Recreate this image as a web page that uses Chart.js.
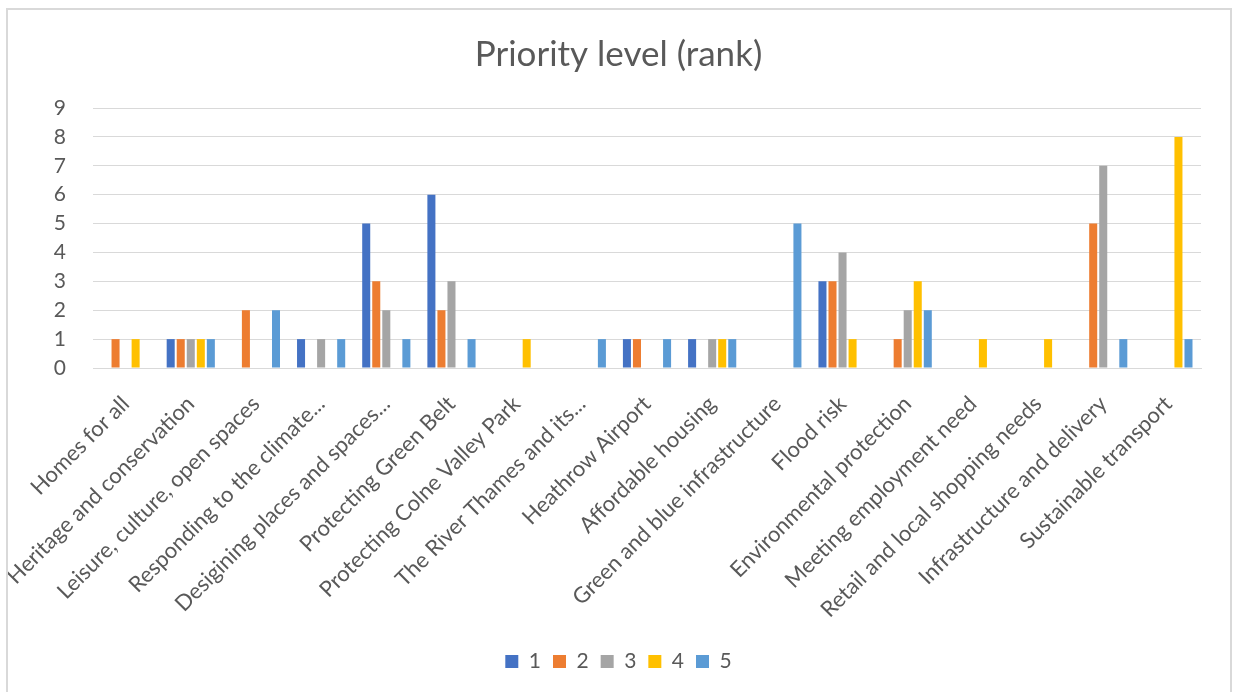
<!DOCTYPE html>
<html>
<head>
<meta charset="utf-8">
<script src="https://cdn.jsdelivr.net/npm/chart.js@4.4.1/dist/chart.umd.min.js"></script>
<style>
    html, body { margin: 0; padding: 0; background: #fff; }
    #wrap { position: relative; width: 1237px; height: 692px; }
    #frame {
        position: absolute; left: 6px; top: 8px; width: 1222px; height: 700px;
        border: 2px solid #d9d9d9; pointer-events: none;
    }
</style>
</head>
<body>
<div id="wrap">
    <canvas id="chart" width="1237" height="692"></canvas>
    <div id="frame"></div>
</div>
<script>
// Categories (x axis)
const categories = [
    'Homes for all',
    'Heritage and conservation',
    'Leisure, culture, open spaces',
    'Responding to the climate...',
    'Desigining places and spaces...',
    'Protecting Green Belt',
    'Protecting Colne Valley Park',
    'The River Thames and its...',
    'Heathrow Airport',
    'Affordable housing',
    'Green and blue infrastructure',
    'Flood risk',
    'Environmental protection',
    'Meeting employment need',
    'Retail and local shopping needs',
    'Infrastructure and delivery',
    'Sustainable transport'
];

// Series: number of responses giving each rank
const rank1 = [0, 1, 0, 1, 5, 6, 0, 0, 1, 1, 0, 3, 0, 0, 0, 0, 0];
const rank2 = [1, 1, 2, 0, 3, 2, 0, 0, 1, 0, 0, 3, 1, 0, 0, 5, 0];
const rank3 = [0, 1, 0, 1, 2, 3, 0, 0, 0, 1, 0, 4, 2, 0, 0, 7, 0];
const rank4 = [1, 1, 0, 0, 0, 0, 1, 0, 0, 1, 0, 1, 3, 1, 1, 0, 8];
const rank5 = [0, 1, 2, 1, 1, 1, 0, 1, 1, 1, 5, 0, 2, 0, 0, 1, 1];

const seriesLabels = ['1', '2', '3', '4', '5'];
const seriesColors = ['#4472C4', '#ED7D31', '#A5A5A5', '#FFC000', '#5B9BD5'];
const yTicks = [0, 1, 2, 3, 4, 5, 6, 7, 8, 9];

const TEXT = '#595959';
const GRID = '#d9d9d9';
const FONT = "Lato, 'Open Sans', sans-serif";

const allSeries = [rank1, rank2, rank3, rank4, rank5];

const ctx = document.getElementById('chart').getContext('2d');
new Chart(ctx, {
    type: 'bar',
    data: {
        labels: categories,
        datasets: allSeries.map((vals, i) => ({
            label: seriesLabels[i],
            data: vals,
            backgroundColor: seriesColors[i],
            borderWidth: 0,
            categoryPercentage: 0.77,
            barPercentage: 0.8
        }))
    },
    options: {
        responsive: false,
        animation: false,
        layout: { padding: { left: 8, right: 8, top: 0, bottom: 10 } },
        plugins: {
            title: {
                display: true,
                text: 'Priority level (rank)',
                color: TEXT,
                font: { family: FONT, size: 35, weight: 'normal' },
                padding: { top: 34, bottom: 32 }
            },
            legend: {
                position: 'bottom',
                labels: {
                    color: TEXT,
                    font: { family: FONT, size: 21 },
                    boxWidth: 13,
                    boxHeight: 13,
                    padding: 12
                }
            },
            tooltip: { enabled: false }
        },
        scales: {
            x: {
                grid: { display: false },
                border: { color: GRID, width: 1 },
                ticks: {
                    color: TEXT,
                    font: { family: FONT, size: 22 },
                    maxRotation: 45,
                    minRotation: 45,
                    autoSkip: false,
                    padding: 15
                },
                afterFit: scale => {
                    scale.height = 271;
                    scale.paddingRight = 36;
                }
            },
            y: {
                min: 0,
                max: 9,
                afterBuildTicks: scale => { scale.ticks = yTicks.map(v => ({ value: v })); },
                grid: { color: GRID, lineWidth: 1, drawTicks: false },
                border: { display: false },
                ticks: {
                    color: TEXT,
                    font: { family: FONT, size: 21 },
                    padding: 27
                },
                afterFit: scale => { scale.width = 85; }
            }
        }
    }
});
</script>
</body>
</html>
